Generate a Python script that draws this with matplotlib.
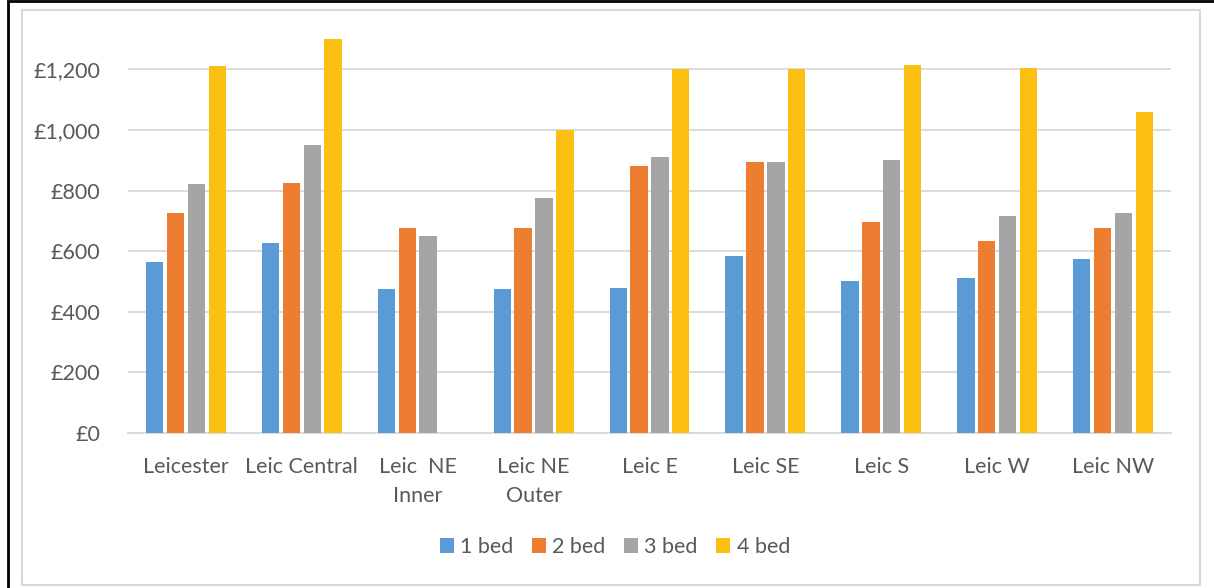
import matplotlib
matplotlib.use("Agg")
import matplotlib.pyplot as plt
from matplotlib.patches import Rectangle
from matplotlib.ticker import FuncFormatter
import numpy as np

plt.rcParams['font.family'] = ['Lato', 'DejaVu Sans']

areas = ["Leicester", "Leic Central", "Leic  NE\nInner", "Leic NE\nOuter",
         "Leic E", "Leic SE", "Leic S", "Leic W", "Leic NW"]
series_names = ["1 bed", "2 bed", "3 bed", "4 bed"]
bed1 = [563, 628, 475, 475, 479, 585, 500, 510, 574]
bed2 = [725, 825, 675, 675, 880, 895, 695, 634, 675]
bed3 = [823, 950, 650, 775, 910, 895, 900, 715, 725]
bed4 = [1212, 1300, np.nan, 1000, 1200, 1200, 1213, 1205, 1060]
colors = ["#5b9bd5", "#ed7d31", "#a5a5a5", "#fbc011"]

W, H = 1214, 588
fig = plt.figure(figsize=(W / 100, H / 100), dpi=100)

# chart frame: heavy black line along left/top, light grey chart-area border
fig.add_artist(Rectangle((7.5 / W, -0.1), 1.2, 1.1 - 1.2 / H, transform=fig.transFigure,
                         fill=False, edgecolor="black", linewidth=2.0))
fig.add_artist(Rectangle((22 / W, 3 / H), (1200 - 22) / W, (578 - 3) / H,
                         transform=fig.transFigure, fill=False,
                         edgecolor="#d9d9d9", linewidth=1.5))

ax = fig.add_axes([128 / W, (H - 433) / H, (1171 - 128) / W, (433 - 39) / H])
x = np.arange(len(areas))
slot = 0.18
bar_w = 0.15
for i, (vals, name) in enumerate(zip([bed1, bed2, bed3, bed4], series_names)):
    ax.bar(x + (i - 1.5) * slot, vals, width=bar_w, color=colors[i], label=name,
           zorder=3)

ax.set_xlim(-0.5, len(areas) - 0.5)
ax.set_ylim(0, 1300)
ax.set_yticks(range(0, 1201, 200))
ax.yaxis.set_major_formatter(FuncFormatter(lambda v, p: f"£{int(v):,}"))
ax.grid(axis="y", color="#d9d9d9", linewidth=1.3, zorder=0)
for s in ["top", "right", "left"]:
    ax.spines[s].set_visible(False)
ax.spines["bottom"].set_color("#d9d9d9")
ax.spines["bottom"].set_linewidth(1.3)
ax.tick_params(axis="both", length=0, labelsize=15.5, colors="#595959")
ax.tick_params(axis="y", pad=20)
ax.tick_params(axis="x", pad=17)
ax.set_xticks(x)
ax.set_xticklabels(areas, linespacing=1.6)

handles, labels = ax.get_legend_handles_labels()
fig.legend(handles, labels, loc="center", bbox_to_anchor=(615 / W, (H - 547) / H),
           ncol=4, frameon=False, fontsize=15.5, handlelength=0.65, handleheight=0.65,
           handletextpad=0.3, columnspacing=0.85, labelcolor="#595959")

fig.savefig("out.png", dpi=100)
